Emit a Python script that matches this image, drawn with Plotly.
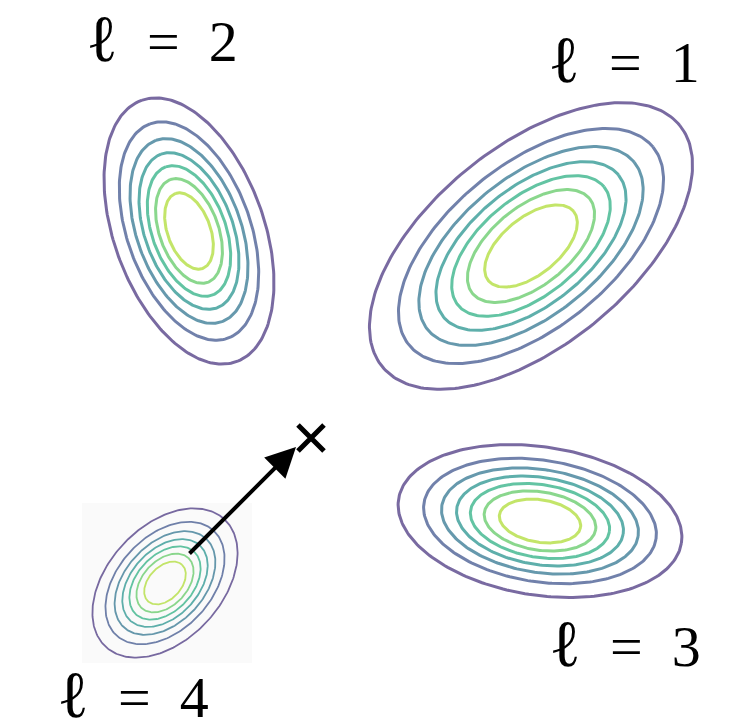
import numpy as np
import plotly.graph_objects as go

# four gaussian components, image-pixel coordinates (y grows downward)
labels = ["1", "2", "3", "4"]
centers_x = [531, 189, 540, 165]
centers_y = [246, 231, 521, 583]
sigma_major = [93.0, 67.5, 69.5, 42.3]
sigma_minor = [48.5, 36.4, 36.0, 27.7]
angle_deg = [39, 110, -8.8, 47]          # visual, counter-clockwise
line_px = [3.0, 3.0, 3.0, 1.8]

# contour levels as fraction of the peak density
levels = [0.12, 0.24, 0.36, 0.48, 0.60, 0.72, 0.84]
level_colors = ["#46327e", "#3b528b", "#2c728e", "#21918c",
                "#28ae80", "#5ec962", "#addc30"]

label_x = [624, 162, 625, 133]
label_y = [67, 46, 651, 702]

arrow_start = (188, 555)
arrow_end = (296, 447)
target = (311, 438)

fig = go.Figure()

# faint background patch behind the small component
px, py, pw, ph = 167, 583, 170, 160
fig.add_shape(type="rect", x0=px - pw / 2, x1=px + pw / 2, y0=py - ph / 2, y1=py + ph / 2,
              fillcolor="#fafafa", line=dict(width=0), layer="below")

t = np.linspace(0, 2 * np.pi, 241)
for k in range(len(labels)):
    phi = np.radians(angle_deg[k])
    ux, uy = np.cos(phi), -np.sin(phi)
    vx, vy = np.sin(phi), np.cos(phi)
    for lev, col in zip(levels, level_colors):
        r = np.sqrt(-2 * np.log(lev))
        a = r * sigma_major[k]
        b = r * sigma_minor[k]
        xs = centers_x[k] + a * np.cos(t) * ux + b * np.sin(t) * vx
        ys = centers_y[k] + a * np.cos(t) * uy + b * np.sin(t) * vy
        fig.add_trace(go.Scatter(
            x=xs, y=ys, mode="lines", opacity=0.72,
            line=dict(color=col, width=line_px[k]),
            hoverinfo="skip", showlegend=False,
        ))

ell = "<span style=\"font-family:'DejaVu Sans';font-weight:200;font-size:66px\">ℓ</span>"
fig.add_trace(go.Scatter(
    x=label_x, y=label_y, mode="text",
    text=[ell + "\u2002=\u2002" + s for s in labels],
    textposition="middle center",
    textfont=dict(family="Liberation Serif, DejaVu Serif, serif", size=58, color="black"),
    hoverinfo="skip", showlegend=False,
))

fig.add_trace(go.Scatter(
    x=[target[0]], y=[target[1]], mode="markers",
    marker=dict(symbol="x-thin", size=26, line=dict(color="black", width=5)),
    hoverinfo="skip", showlegend=False,
))

fig.add_annotation(
    x=arrow_end[0], y=arrow_end[1], ax=arrow_start[0], ay=arrow_start[1],
    xref="x", yref="y", axref="x", ayref="y", text="",
    showarrow=True, arrowhead=2, arrowsize=1.5, arrowwidth=4, arrowcolor="black",
)

fig.update_layout(
    width=738, height=722,
    margin=dict(l=0, r=0, t=0, b=0),
    paper_bgcolor="white", plot_bgcolor="white",
    xaxis=dict(range=[0, 738], visible=False),
    yaxis=dict(range=[722, 0], visible=False),
)
fig.write_html("out.html", config={"displayModeBar": False},
               post_script="document.body.style.margin='0px';")
